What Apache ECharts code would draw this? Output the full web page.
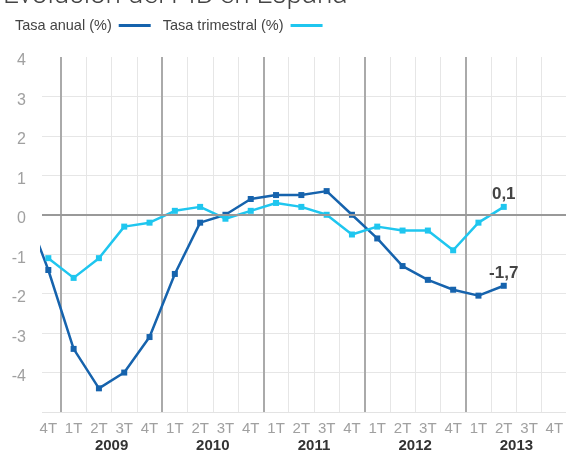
<!DOCTYPE html>
<html>
<head>
<meta charset="utf-8">
<script src="https://cdn.jsdelivr.net/npm/echarts@6/dist/echarts.min.js"></script>
<style>
    html, body { margin: 0; padding: 0; background: #fff; }
    #main { width: 566px; height: 451px; }
</style>
</head>
<body>
<div id="main"></div>
<script>
    // trimestres desde 4T 2008 hasta 4T 2013
    var quarters = ['4T',
        '1T', '2T', '3T', '4T',
        '1T', '2T', '3T', '4T',
        '1T', '2T', '3T', '4T',
        '1T', '2T', '3T', '4T',
        '1T', '2T', '3T', '4T'];
    var years = ['2009', '2010', '2011', '2012', '2013'];

    // 3T 2008, solo se ve el tramo que entra por la izquierda
    var anualPrevio = 0.3;
    var tasaAnual = [-1.4, -3.4, -4.4, -4.0, -3.1, -1.5, -0.2, 0.0, 0.4,
        0.5, 0.5, 0.6, 0.0, -0.6, -1.3, -1.65, -1.9, -2.05, -1.8];
    var tasaTrimestral = [-1.1, -1.6, -1.1, -0.3, -0.2, 0.1, 0.2, -0.1, 0.1,
        0.3, 0.2, 0.0, -0.5, -0.3, -0.4, -0.4, -0.9, -0.2, 0.2];
    var etiquetaAnual = '-1,7';
    var etiquetaTrimestral = '0,1';
    var yTicks = [-4, -3, -2, -1, 0, 1, 2, 3, 4];

    var xMin = -0.25, xMax = 20.46;

    var halfSteps = [], labelSteps = [];
    for (var i = 0; i < quarters.length; i++) {
        labelSteps.push(i);
        if (i < quarters.length - 1) halfSteps.push(i + 0.5);
    }
    var yearLines = years.map(function (y, k) { return 0.5 + 4 * k; });
    var yearCenters = years.map(function (y, k) { return 2.5 + 4 * k; });

    function toPoints(arr, label) {
        return arr.map(function (v, i) {
            var p = { value: [i, v] };
            if (i === arr.length - 1) {
                p.label = {
                    show: true, position: 'top', distance: 1,
                    formatter: label,
                    fontSize: 17, fontWeight: 'bold', color: '#444'
                };
            }
            return p;
        });
    }

    var anualData = [[-1, anualPrevio]].concat(toPoints(tasaAnual, etiquetaAnual));
    var trimData = toPoints(tasaTrimestral, etiquetaTrimestral);

    var myChart = echarts.init(document.getElementById('main'));

    myChart.setOption({
        animation: false,
        textStyle: { fontFamily: '"Liberation Sans", Arial, sans-serif' },
        title: {
            text: 'Evolución del PIB en España',
            left: -2,
            top: -23,
            textStyle: { fontSize: 28, fontWeight: 300, color: '#444', fontFamily: 'Roboto' }
        },
        legend: {
            left: 10,
            top: 13,
            align: 'right',
            icon: 'rect',
            itemWidth: 32,
            itemHeight: 3,
            itemGap: 12,
            textStyle: { fontSize: 14.5, color: '#444', padding: [0, 2, 0, 0] },
            data: ['Tasa anual (%)', 'Tasa trimestral (%)']
        },
        grid: { left: 42, right: 0, top: 57, bottom: 39, outerBoundsMode: 'none' },
        xAxis: [
            {
                type: 'value',
                min: xMin,
                max: xMax,
                axisLine: { show: false },
                axisTick: { show: false, customValues: halfSteps },
                splitLine: { show: true, lineStyle: { color: '#e6e6e6', width: 1 } },
                axisLabel: {
                    customValues: labelSteps,
                    formatter: function (v) { return quarters[Math.round(v)]; },
                    color: '#a0a0a0', fontSize: 15, margin: 9
                }
            },
            {
                type: 'value',
                min: xMin,
                max: xMax,
                position: 'bottom',
                axisLine: { show: false },
                axisTick: { show: false, customValues: yearLines },
                splitLine: { show: true, lineStyle: { color: '#aaaaaa', width: 2 } },
                axisLabel: {
                    customValues: yearCenters,
                    formatter: function (v) { return years[Math.round((v - 2.5) / 4)]; },
                    color: '#333', fontSize: 15, fontWeight: 'bold', margin: 26
                }
            }
        ],
        yAxis: {
            type: 'value',
            min: -5,
            max: 4,
            interval: 1,
            axisLine: { show: false },
            axisTick: { show: false },
            axisLabel: {
                color: '#a0a0a0', fontSize: 16, margin: 16,
                verticalAlign: 'top',
                lineHeight: 8,
                formatter: function (v) { return yTicks.indexOf(v) >= 0 ? String(v) : ''; }
            },
            splitLine: {
                lineStyle: {
                    color: ['#e3e3e3', '#e6e6e6', '#e6e6e6', '#e6e6e6', '#e6e6e6',
                        '#e6e6e6', '#e6e6e6', '#e6e6e6', '#e6e6e6', 'rgba(0,0,0,0)']
                }
            }
        },
        series: [
            {
                name: 'Tasa anual (%)',
                type: 'line',
                data: anualData,
                color: '#1663ad',
                symbol: 'rect',
                symbolSize: 6,
                showAllSymbol: true,
                lineStyle: { width: 2.5 },
                clip: true,
                markLine: {
                    silent: true,
                    symbol: 'none',
                    label: { show: false },
                    lineStyle: { color: '#999', width: 2, type: 'solid' },
                    data: [{ yAxis: 0 }]
                },
                z: 3
            },
            {
                name: 'Tasa trimestral (%)',
                type: 'line',
                data: trimData,
                color: '#1fc6ef',
                symbol: 'rect',
                symbolSize: 6,
                lineStyle: { width: 2.5 },
                z: 4
            }
        ]
    });
</script>
</body>
</html>
